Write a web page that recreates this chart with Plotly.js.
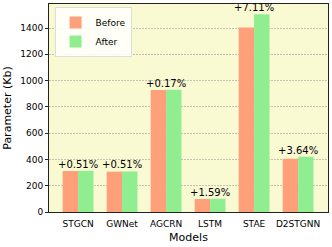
<!DOCTYPE html>
<html><head><meta charset="utf-8">
<script src="https://cdn.plot.ly/plotly-3.0.1.min.js"></script>
<style>html,body{margin:0;padding:0;background:#fff;}#chart{width:332px;height:247px;}</style>
</head><body><div id="chart"></div>
<script>
var models = ["STGCN","GWNet","AGCRN","LSTM","STAE","D2STGNN"];
var before = [312, 307, 928, 99, 1405, 406];
var after = [313.6, 308.6, 929.6, 100.6, 1505, 420.8];
var changeLabels = ["+0.51%","+0.51%","+0.17%","+1.59%","+7.11%","+3.64%"];
var yTicks = [0,200,400,600,800,1000,1200,1400];

var font = "DejaVu Sans, sans-serif";
var traces = [
  {type:"bar", name:"Before", x:models, y:before, marker:{color:"#FFA07A"}},
  {type:"bar", name:"After", x:models, y:after, marker:{color:"#90EE90"}}
];
var annotations = models.map(function(m,i){
  return {x:m, y:Math.max(before[i],after[i]), text:changeLabels[i], showarrow:false,
    xanchor:"center", yanchor:"bottom", yshift:-1, font:{family:font,size:10,color:"#000"}};
});
var layout = {
  width:332, height:247,
  margin:{l:49, r:4, t:4, b:35},
  paper_bgcolor:"#fff", plot_bgcolor:"#FAFAD2",
  barmode:"group", bargap:0.3, bargroupgap:0,
  font:{family:font, size:9, color:"#000"},
  xaxis:{range:[-0.66,5.68], showline:true, linecolor:"#222", linewidth:1, mirror:true,
    ticks:"outside", ticklen:3, tickcolor:"rgba(0,0,0,0)", tickfont:{size:9, family:font},
    title:{text:"Models", font:{size:11,family:font}, standoff:5}},
  yaxis:{range:[0,1583], tickvals:yTicks, showline:true, linecolor:"#222", linewidth:1, mirror:true,
    ticks:"outside", ticklen:3, tickcolor:"#222", tickfont:{size:9,family:font},
    showgrid:true, gridcolor:"#aaa", griddash:"2px,1px", gridwidth:0.7, zeroline:false,
    title:{text:"Parameter (Kb)", font:{size:11,family:font}, standoff:6}},
  legend:{x:0.02, y:0.985, xanchor:"left", yanchor:"top", bgcolor:"rgba(255,255,255,0.85)",
    bordercolor:"#ddd", borderwidth:1, font:{size:9,family:font}, itemwidth:30, tracegroupgap:0},
  annotations:annotations,
  showlegend:true
};
Plotly.newPlot("chart", traces, layout, {displayModeBar:false, staticPlot:true});
</script></body></html>
